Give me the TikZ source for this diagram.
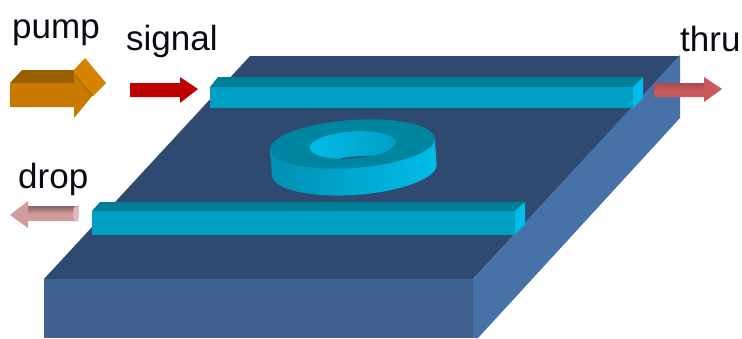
\documentclass[tikz,border=0pt]{standalone}
\usepackage{fontspec}
\setmainfont{Liberation Sans}
\definecolor{slabtop}{HTML}{2F4A70}
\definecolor{slabright}{HTML}{4672A8}
\definecolor{slabfront}{HTML}{3F6290}
\definecolor{wgfront}{HTML}{009FC4}
\definecolor{wgtop}{HTML}{007E98}
\definecolor{wgright}{HTML}{00BCE8}
\definecolor{pumpfront}{HTML}{C87A00}
\definecolor{pumptop}{HTML}{9A6000}
\definecolor{pumphead}{HTML}{D48400}
\definecolor{thrucol}{HTML}{C85A5C}
\definecolor{thrudark}{HTML}{A84C50}
\definecolor{dropcol}{HTML}{D09C9C}
\definecolor{dropdark}{HTML}{8A6464}
\definecolor{txt}{HTML}{0A0A14}
\tikzset{
  lab/.style={anchor=base west,inner sep=0pt,text=txt,font=\fontsize{35}{35}\selectfont},
}
\begin{document}
\begin{tikzpicture}[x=1pt,y=-1pt]
\useasboundingbox[fill=white] (0,0) rectangle (742,338);
% slab
\fill[slabtop] (250,56) -- (680,56) -- (473,279) -- (44,279) -- cycle;
\fill[slabright] (680,55) -- (680,118) -- (478,338) -- (473,338) -- (473,279) -- cycle;
\fill[slabfront] (44,278.5) -- (473,278.5) -- (473,338) -- (44,338) -- cycle;
% top waveguide
\fill[wgtop] (210,87) -- (218,77) -- (643,77) -- (633,87) -- cycle;
\fill[wgfront] (210,87) -- (633,87) -- (633,108) -- (210,108) -- cycle;
\fill[wgright] (633,87) -- (643,77) -- (643,98) -- (633,108) -- cycle;
% bottom waveguide
\fill[wgtop] (92,211) -- (100,202) -- (525,202) -- (515,211) -- cycle;
\fill[wgfront] (92,211) -- (515,211) -- (515,235) -- (92,235) -- cycle;
\fill[wgright] (515,211) -- (525,202) -- (525,225) -- (515,234) -- cycle;
% ring
\begin{scope}[shift={(352.5,144)},rotate=4]
  \path[left color=wgfront!90!black,right color=wgright,middle color=wgfront!70!wgright]
    (-82.5,0) -- (-82.5,26) arc[start angle=180,end angle=0,x radius=82.5,y radius=25]
    -- (82.5,0) -- cycle;
  \fill[wgtop!80!wgfront] (0,0) ellipse[x radius=82.5,y radius=24];
  \begin{scope}
    \clip (0,1) ellipse[x radius=43,y radius=13.5];
    \path[left color=wgright,right color=wgfront] (-43,-13) rectangle (43,15);
    \fill[slabtop!80!wgtop] (4,15) ellipse[x radius=20,y radius=2.5];
  \end{scope}
\end{scope}
% pump arrow
\fill[pumptop] (10,83) -- (22,70) -- (74,70) -- (74,83) -- cycle;
\fill[pumpfront] (10,83) -- (74,83) -- (74,74) -- (93,95) -- (74,118) -- (74,107) -- (10,107) -- cycle;
\fill[pumphead] (74,70) -- (85,58) -- (106,83) -- (93,96) -- (74,74) -- cycle;
\draw[pumptop!70!pumpfront,line width=0.8pt] (74,74) -- (93,96);
% signal arrow
\fill[red!75!black] (130,83) -- (180,83) -- (180,77) -- (198,89) -- (180,103) -- (180,97) -- (130,97) -- cycle;
% thru arrow
\fill[thrucol] (654,83) -- (704,83) -- (704,77) -- (722,89) -- (704,102) -- (704,97) -- (654,97) -- cycle;
\path[top color=thrudark,bottom color=thrucol] (654,83) rectangle (704,90);
% drop arrow
\fill[dropcol] (78,206) -- (28,206) -- (28,201) -- (10,215) -- (28,228) -- (28,221) -- (78,221) -- cycle;
\path[top color=dropdark,bottom color=dropcol] (28,206) -- (78,206) -- (78,214) -- (28,214) -- cycle;
\fill[dropcol!70!white] (76,213.5) ellipse[x radius=3,y radius=7.5];
% labels
\node[lab] (pump) at (12,38) {pump};
\node[lab] (signal) at (126,50) {signal};
\node[lab] (thru) at (680,51) {thru};
\node[lab] (drop) at (18,188) {drop};
\end{tikzpicture}
\end{document}
